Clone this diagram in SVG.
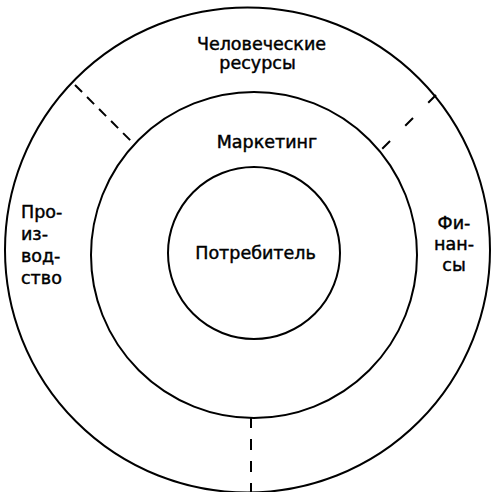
<svg xmlns="http://www.w3.org/2000/svg" width="492" height="492" viewBox="0 0 492 492">
  <style>
    .ring { fill: none; stroke: #000; stroke-width: 2; }
    .sep { fill: none; stroke: #000; stroke-width: 2; }
    text { font-family: "DejaVu Sans", "Liberation Sans", sans-serif; font-size: 17.5px; fill: #000; stroke: #000; stroke-width: 0.45; }
    .c { text-anchor: middle; }
  </style>
  <rect width="492" height="492" fill="#fff"/>

  <!-- outer ring -->
  <g id="outer">
    <circle class="ring" cx="247.5" cy="250" r="242.5"/>
    <g id="hr">
      <text class="c" x="261.5" y="50">Человеческие</text>
      <text class="c" x="257.5" y="69">ресурсы</text>
    </g>
    <g id="production">
      <text x="21" y="218">Про-</text>
      <text x="21" y="240">из-</text>
      <text x="21" y="262">вод-</text>
      <text x="21" y="284">ство</text>
    </g>
    <g id="finance">
      <text class="c" x="454" y="229">Фи-</text>
      <text class="c" x="454" y="250">нан-</text>
      <text class="c" x="454" y="271">сы</text>
    </g>
  </g>

  <!-- middle ring -->
  <g id="marketing">
    <circle class="ring" cx="254" cy="255" r="163"/>
    <text class="c" x="267" y="148">Маркетинг</text>
  </g>

  <!-- core -->
  <g id="consumer">
    <circle class="ring" cx="254" cy="253" r="86"/>
    <text class="c" x="255.5" y="259">Потребитель</text>
  </g>

  <!-- dashed dividers between outer sectors -->
  <g id="connectors">
    <line class="sep" x1="75" y1="85" x2="133" y2="143" stroke-dasharray="10 7"/>
    <line class="sep" x1="436" y1="95" x2="382" y2="149" stroke-dasharray="11 21.5"/>
    <line class="sep" x1="251" y1="417" x2="251" y2="492" stroke-dasharray="11 11"/>
  </g>
</svg>
